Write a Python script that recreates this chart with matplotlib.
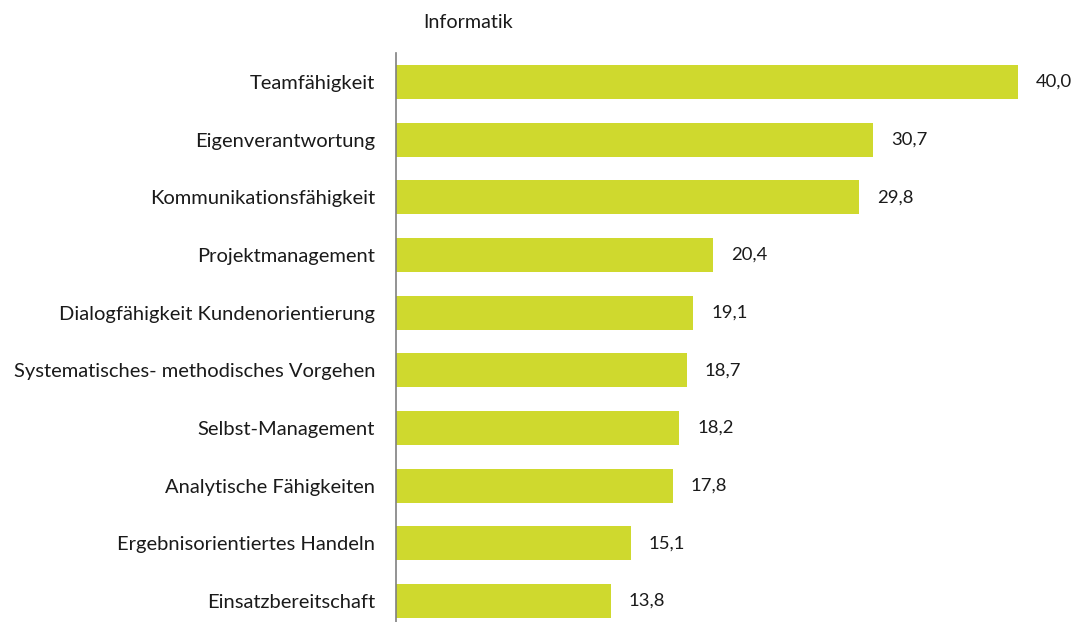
import matplotlib.pyplot as plt

plt.rcParams['font.family'] = ['Lato', 'DejaVu Sans']

categories = ["Teamfähigkeit", "Eigenverantwortung", "Kommunikationsfähigkeit",
              "Projektmanagement", "Dialogfähigkeit Kundenorientierung",
              "Systematisches- methodisches Vorgehen", "Selbst-Management",
              "Analytische Fähigkeiten", "Ergebnisorientiertes Handeln",
              "Einsatzbereitschaft"]
values = [40.0, 30.7, 29.8, 20.4, 19.1, 18.7, 18.2, 17.8, 15.1, 13.8]
value_labels = ["40,0", "30,7", "29,8", "20,4", "19,1", "18,7", "18,2", "17,8", "15,1", "13,8"]

fig = plt.figure(figsize=(10.75, 6.22), dpi=100)
ax = fig.add_axes([0.3684, 0.0, 0.622, 0.9148])

pos = list(range(len(categories)))
ax.barh(pos, values, height=0.59, color="#CFD92E")
for p, v, lab in zip(pos, values, value_labels):
    ax.annotate(lab, (v, p), xytext=(13, 0), textcoords="offset points",
                va="center", ha="left", fontsize=13.3, color="#1a1a1a")

ax.set_yticks(pos)
ax.set_yticklabels(categories, fontsize=14.5, color="#1a1a1a")
ax.tick_params(axis="y", length=0, pad=15)
ax.set_xticks([])
ax.set_ylim(9.364, -0.503)
ax.set_xlim(0, 43)

for s in ["top", "right", "bottom"]:
    ax.spines[s].set_visible(False)
ax.spines["left"].set_color("#808080")
ax.spines["left"].set_linewidth(1.2)

fig.text(423 / 1075, 1 - 22 / 622, "Informatik", fontsize=14.2, color="#1a1a1a",
         ha="left", va="center")

plt.savefig("out.png")
